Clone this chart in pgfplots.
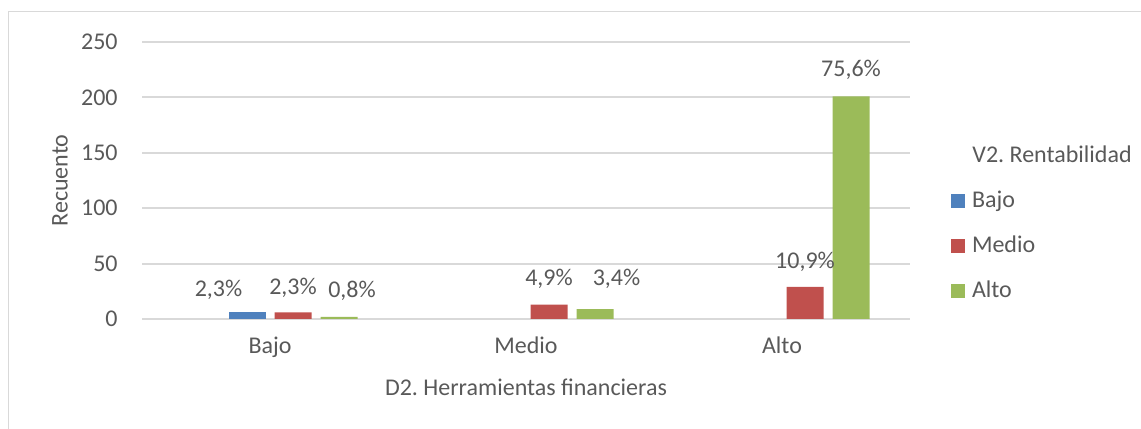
\documentclass[border=0pt]{standalone}
\usepackage{pgfplots}
\pgfplotsset{compat=1.18}
\usepackage{pgfplotstable}
\usepackage{fontspec}
\setmainfont{Carlito}
\frenchspacing
\definecolor{cBlue}{HTML}{4F81BD}
\definecolor{cRed}{HTML}{C0504D}
\definecolor{cGreen}{HTML}{9BBB59}
\definecolor{txt}{HTML}{595959}
\definecolor{gridc}{HTML}{D9D9D9}

% x: 0=Bajo, 1=Medio, 2=Alto (D2. Herramientas financieras)
\pgfplotstableread{
x y lab dx dy
0 6 2,3\% -14.25 8
}\tblBajo
\pgfplotstableread{
x y lab dx dy
0 6 2,3\% 0 9
1 13 4,9\% 0 9.5
2 29 10,9\% 0 9.35
}\tblMedio
\pgfplotstableread{
x y lab dx dy
0 2 0,8\% 6.5 9.85
1 9 3,4\% 10.75 11.85
2 201 75,6\% 0 9.85
}\tblAlto

\begin{document}
\begin{tikzpicture}[font=\fontsize{12bp}{14bp}\selectfont\frenchspacing,text=txt]
\useasboundingbox (0bp,0bp) rectangle (570.5bp,214.5bp);
\draw[gridc,line width=0.9bp] (4.25bp,0bp) -- (4.25bp,208.75bp) -- (570.5bp,208.75bp);
\begin{axis}[
  at={(71bp,55bp)}, anchor=south west,
  scale only axis, width=384bp, height=138.5bp,
  xmin=-0.5, xmax=2.5, ymin=0, ymax=250,
  xtick={0,1,2}, xticklabels={Bajo,Medio,Alto},
  ytick={0,50,100,150,200,250},
  /pgf/number format/assume math mode=true,
  major tick length=0pt,
  axis line style={draw=none},
  ymajorgrids, grid style={gridc,line width=1bp},
  ybar, bar width=18.5bp,
  tick label style={font=\fontsize{12bp}{14bp}\selectfont,text=txt},
  yticklabel style={inner sep=0pt,xshift=-12bp},
  xticklabel style={anchor=base,inner sep=0pt,yshift=-17bp},
  xlabel={D2. Herramientas financieras},
  ylabel={Recuento},
  every axis x label/.style={at={(axis description cs:0.5,0)},anchor=base,yshift=-38bp,inner sep=0pt},
  every axis y label/.style={at={(axis description cs:0,0.5)},rotate=90,anchor=center,yshift=41bp,inner sep=0pt},
  point meta=explicit symbolic,
  nodes near coords,
  visualization depends on={\thisrow{dx}\as\labdx},
  visualization depends on={\thisrow{dy}\as\labdy},
  nodes near coords style={anchor=base,inner sep=0pt,xshift=\labdx bp,yshift=\labdy bp,text=txt,font=\fontsize{12bp}{14bp}\selectfont},
  legend style={at={(axis description cs:1.0534,0.4585)},anchor=north west,draw=none,fill=none,inner sep=0pt,outer sep=0pt,row sep=12bp,
    nodes={inner sep=0pt,text height=8bp,text depth=2.5bp,anchor=base west,text=txt},
    /tikz/every odd column/.style={column sep=3.5bp}},
  legend cell align=left,
]
\addplot[fill=cBlue,draw=none,bar shift=-11.5bp,
  legend image code/.code={\fill[cBlue] (0bp,0bp) rectangle (7bp,7bp);}]
  table[x=x,y=y,meta=lab] {\tblBajo};
\addlegendentry{Bajo}
\addplot[fill=cRed,draw=none,bar shift=11.5bp,
  legend image code/.code={\fill[cRed] (0bp,0bp) rectangle (7bp,7bp);}]
  table[x=x,y=y,meta=lab] {\tblMedio};
\addlegendentry{Medio}
\addplot[fill=cGreen,draw=none,bar shift=34.5bp,
  legend image code/.code={\fill[cGreen] (0bp,0bp) rectangle (7bp,7bp);}]
  table[x=x,y=y,meta=lab] {\tblAlto};
\addlegendentry{Alto}
\end{axis}
\node[anchor=base west,inner sep=0pt] at (486bp,133bp) {V2. Rentabilidad};
\end{tikzpicture}
\end{document}
